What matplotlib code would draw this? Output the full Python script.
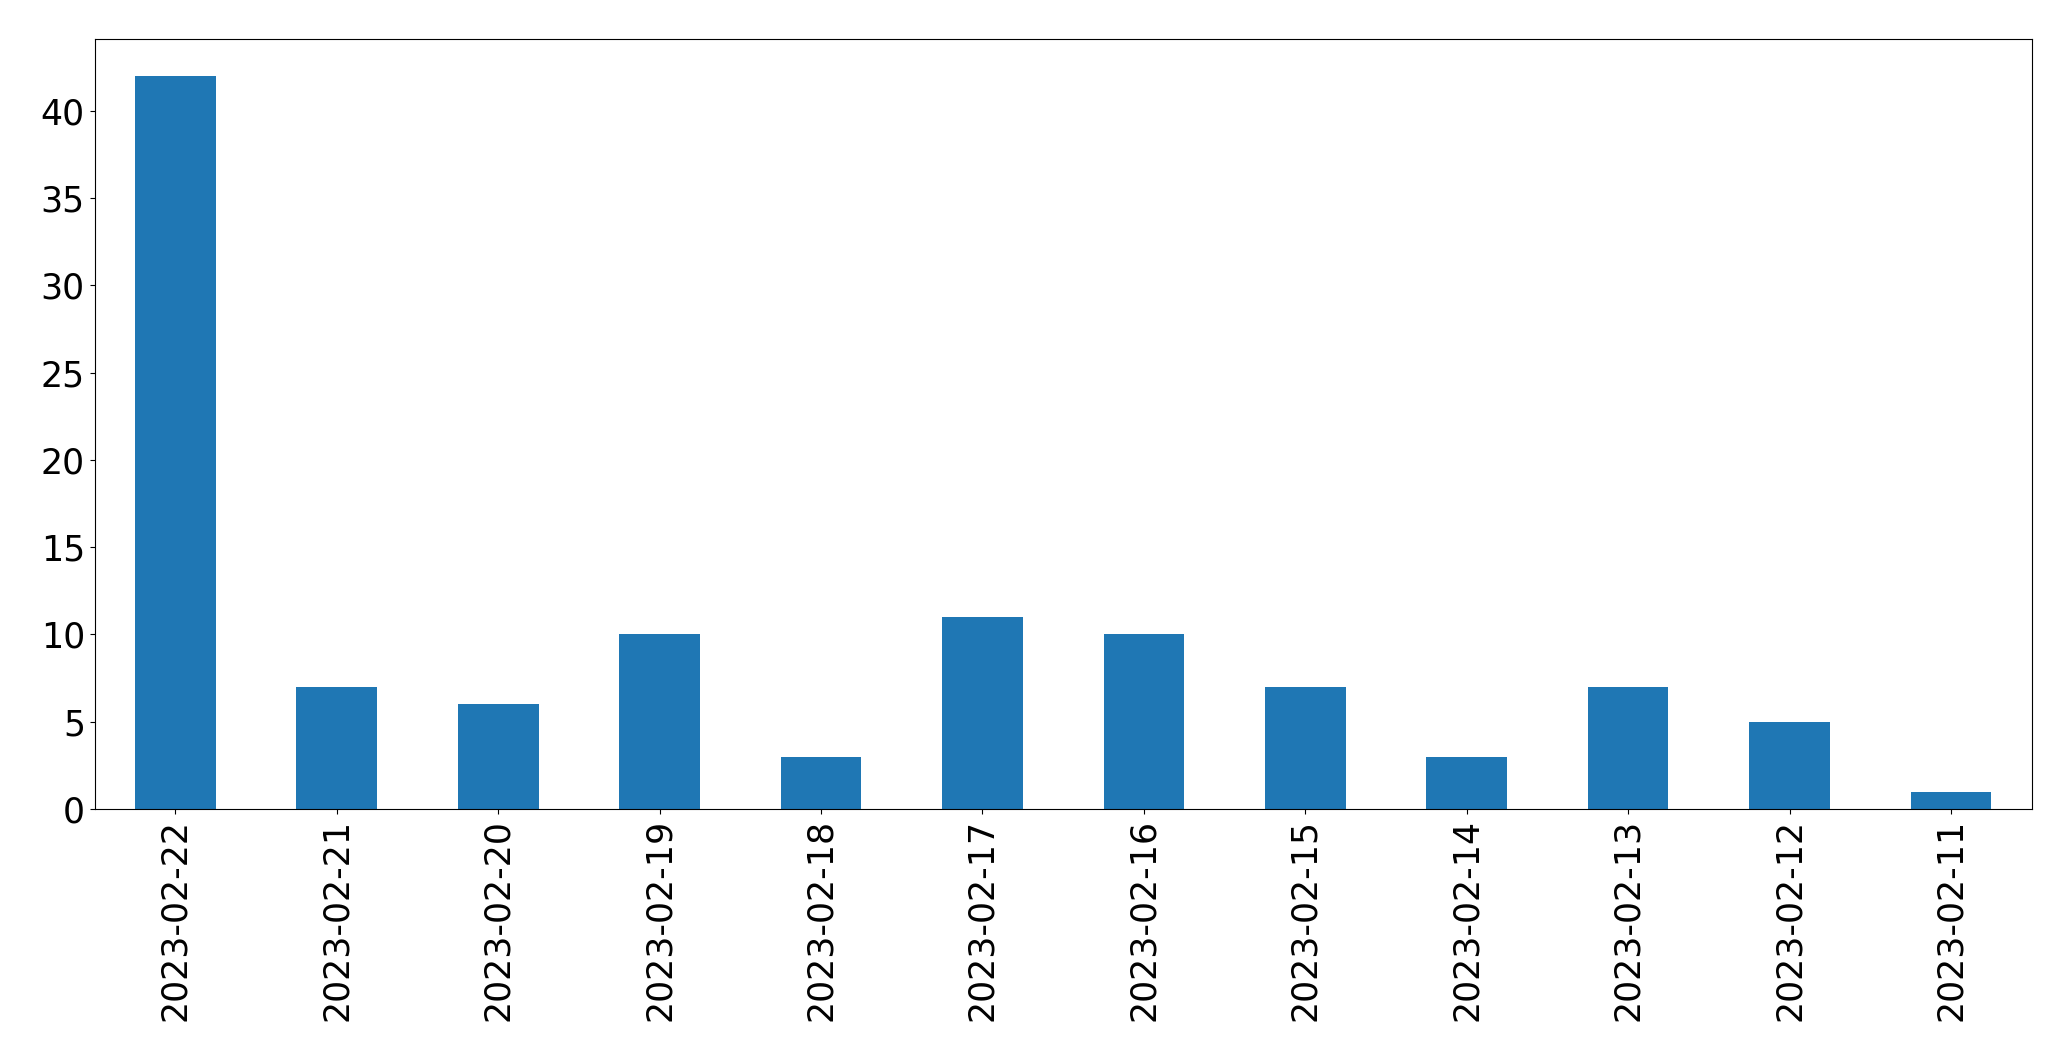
import matplotlib
matplotlib.use("Agg")
import matplotlib.pyplot as plt
import pandas as pd

dates = ["2023-02-22", "2023-02-21", "2023-02-20", "2023-02-19", "2023-02-18", "2023-02-17",
         "2023-02-16", "2023-02-15", "2023-02-14", "2023-02-13", "2023-02-12", "2023-02-11"]
counts = [42, 7, 6, 10, 3, 11, 10, 7, 3, 7, 5, 1]

s = pd.Series(counts, index=dates)

fig = plt.figure(figsize=(20.71, 10.61), dpi=100)
ax = fig.add_subplot(111)
s.plot.bar(ax=ax, color="#1f77b4", fontsize=25)

fig.subplots_adjust(left=0.0457, right=0.981, top=0.963, bottom=0.2375)
fig.savefig("out.png", dpi=100)
